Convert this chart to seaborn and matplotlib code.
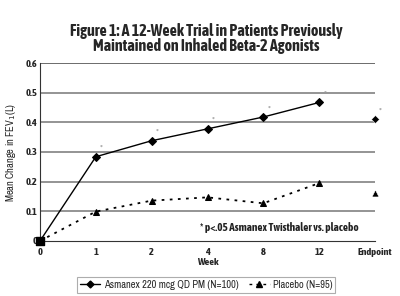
import matplotlib
matplotlib.use("Agg")
import matplotlib.pyplot as plt
from matplotlib.lines import Line2D
import seaborn as sns
import pandas as pd
import numpy as np

weeks = ["0", "1", "2", "4", "8", "12"]
endpoint_label = "Endpoint"
asmanex = [0.0, 0.284, 0.338, 0.378, 0.418, 0.467]
asmanex_endpoint = 0.41
placebo = [0.0, 0.099, 0.136, 0.147, 0.127, 0.195]
placebo_endpoint = 0.161
yticks = [0, 0.1, 0.2, 0.3, 0.4, 0.5, 0.6]
ytick_labels = ["0", "0.1", "0.2", "0.3", "0.4", "0.5", "0.6"]

sns.set_style("white")
plt.rcParams['font.family'] = ['Archivo Narrow', 'DejaVu Sans']
BOLD = ['Asap Condensed', 'DejaVu Sans']

fig = plt.figure(figsize=(4.0, 2.96), dpi=100)
ax = fig.add_axes([0.1, 0.186, 0.8375, 0.601])

pos = np.arange(len(weeks))
df_a = pd.DataFrame({"x": pos, "y": asmanex})
df_p = pd.DataFrame({"x": pos, "y": placebo})

for yv in yticks[1:]:
    ax.axhline(yv, color="#777777" if yv != 0.6 else "#444444", lw=1.1, zorder=1)

sns.lineplot(data=df_a, x="x", y="y", ax=ax, color="black", lw=1.0,
             marker="D", markersize=4, markeredgecolor="black", zorder=3)
sns.lineplot(data=df_p, x="x", y="y", ax=ax, color="black", lw=1.3,
             linestyle=(0, (1.5, 3)), marker="^", markersize=5,
             markeredgecolor="black", zorder=3)
ep = len(weeks)
sns.scatterplot(x=[ep], y=[asmanex_endpoint], ax=ax, marker="D", s=16,
                color="black", zorder=4, clip_on=False)
sns.scatterplot(x=[ep], y=[placebo_endpoint], ax=ax, marker="^", s=25,
                color="black", zorder=4, clip_on=False)
ax.scatter([0], [0], marker="s", s=30, color="black", zorder=5, clip_on=False)

# significance asterisks
for xi, yi in list(zip(pos[1:], asmanex[1:])) + [(ep, asmanex_endpoint)]:
    ax.text(xi + 0.1, yi + 0.012, "*", fontsize=6.5, color="#999999",
            ha="center", va="bottom")

ax.set_xlim(0, ep)
ax.set_ylim(0, 0.6)
ax.set_xticks(list(pos) + [ep])
ax.set_xticklabels(weeks + [endpoint_label], fontsize=7.5, family=BOLD, fontweight="bold")
ax.set_yticks(yticks)
ax.set_yticklabels(ytick_labels, fontsize=7.5, family=BOLD, fontweight="bold")
ax.tick_params(axis="x", direction="inout", length=4, width=0.8, pad=3)
ax.tick_params(axis="y", length=0, pad=2)

ax.set_xlabel("Week", fontsize=7.5, family=BOLD, fontweight="bold", labelpad=1)
ax.set_ylabel("Mean Change in FEV$_1$(L)", fontsize=7.5, labelpad=5)
for s in ["top", "right"]:
    ax.spines[s].set_visible(False)
ax.spines["left"].set_color("#333333")
ax.spines["bottom"].set_color("#333333")

ax.text(4.28, 0.044, "* p<.05 Asmanex Twisthaler vs. placebo", fontsize=8,
        family=BOLD, fontweight="bold", ha="center", va="center", color="#222222")

fig.text(0.515, 0.870, "Figure 1: A 12-Week Trial in Patients Previously\nMaintained on Inhaled Beta-2 Agonists",
         ha="center", va="center", fontsize=11.5, family=BOLD, fontweight="bold",
         linespacing=0.85)

handles = [
    Line2D([0], [0], color="black", lw=1, marker="D", markersize=3.5),
    Line2D([0], [0], color="black", lw=1, linestyle=(0, (2, 3)), marker="^", markersize=4),
]
leg = fig.legend(handles, ["Asmanex 220 mcg QD PM (N=100)", "Placebo (N=95)"],
                 loc="center", bbox_to_anchor=(0.515, 0.038), ncol=2, fontsize=7.5,
                 frameon=True, fancybox=False, handlelength=2.0, handletextpad=0.3,
                 columnspacing=1.0, borderpad=0.3)
leg.get_frame().set_edgecolor("#999999")
leg.get_frame().set_linewidth(0.8)

fig.savefig("out.png", dpi=100)
